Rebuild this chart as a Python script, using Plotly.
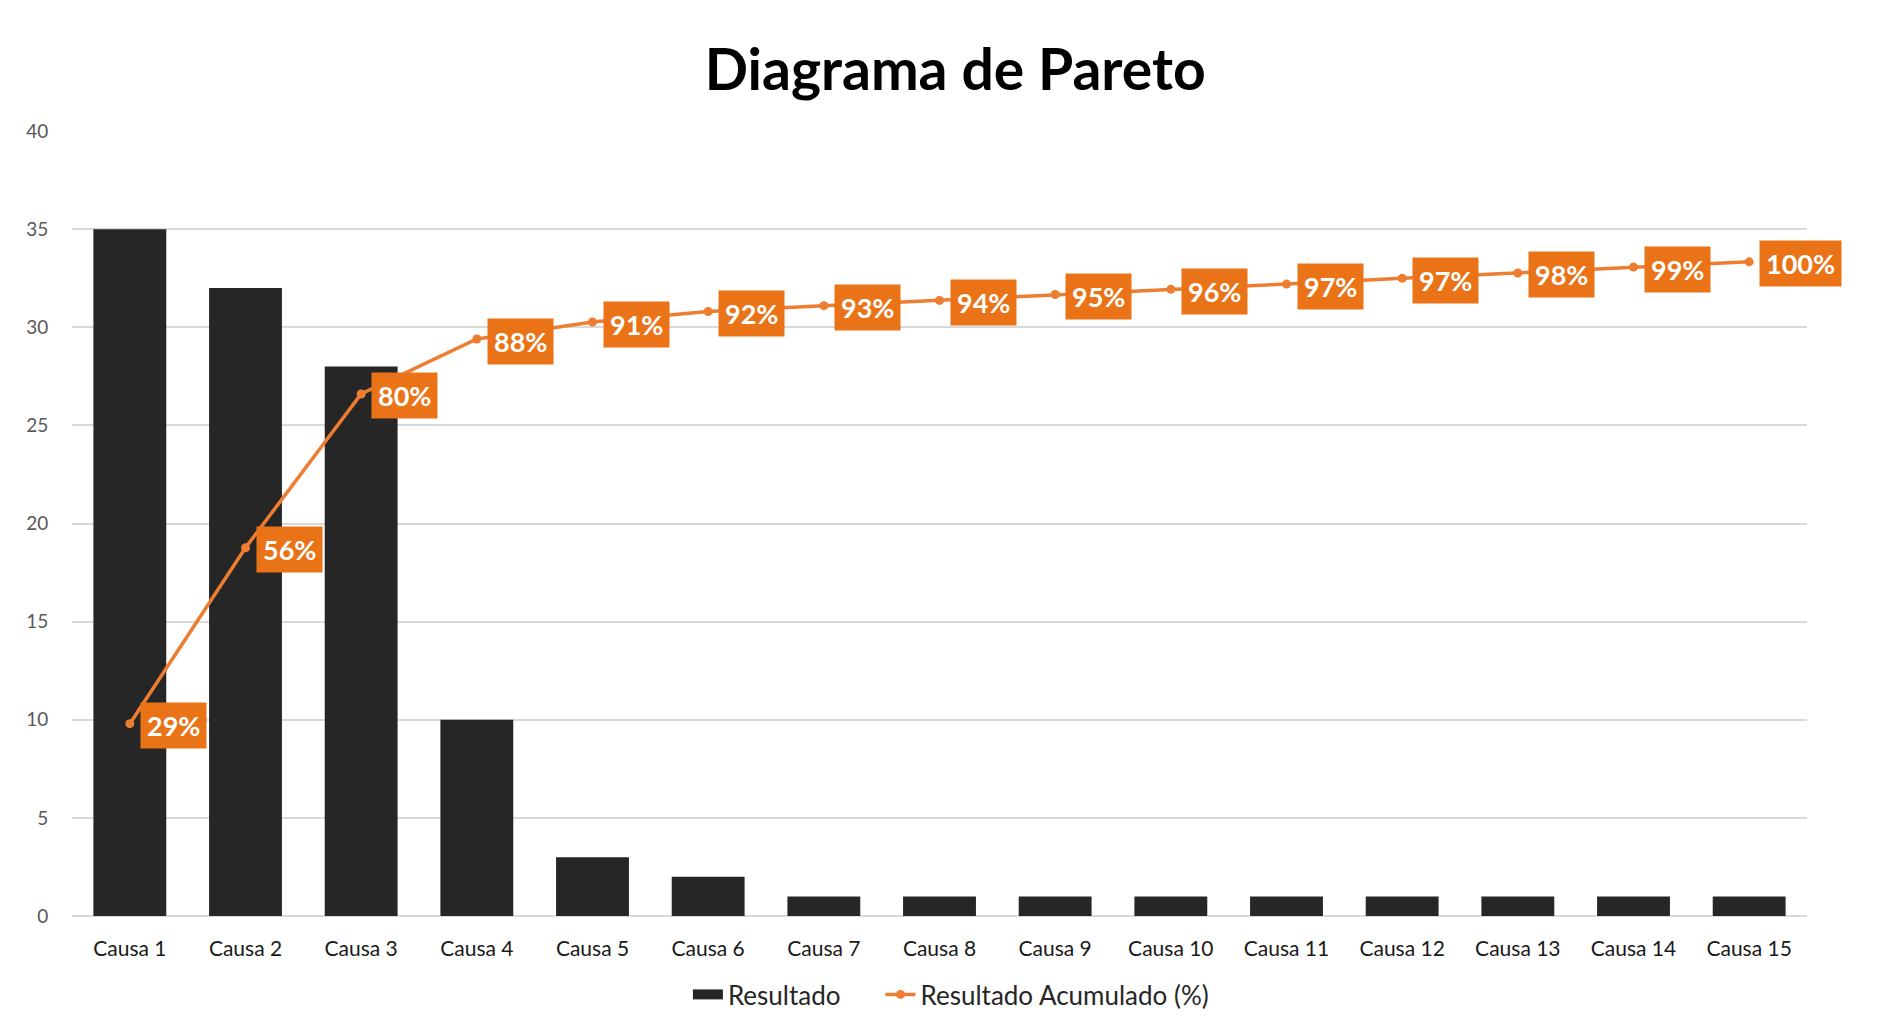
import plotly.graph_objects as go

# data
causas = ["Causa 1", "Causa 2", "Causa 3", "Causa 4", "Causa 5", "Causa 6", "Causa 7", "Causa 8",
          "Causa 9", "Causa 10", "Causa 11", "Causa 12", "Causa 13", "Causa 14", "Causa 15"]
resultado = [35, 32, 28, 10, 3, 2, 1, 1, 1, 1, 1, 1, 1, 1, 1]
acumulado_pct = [29.4, 56.3, 79.8, 88.2, 90.8, 92.4, 93.3, 94.1, 95.0, 95.8, 96.6, 97.48, 98.3, 99.2, 100.0]
y_ticks = [0, 5, 10, 15, 20, 25, 30, 35, 40]

BAR_COLOR = "#262626"
LINE_COLOR = "#ED7D31"
LABEL_BG = "#EA7317"
FONT = "Lato"

fig = go.Figure()

# bars (legend entry drawn by a dummy wide swatch below)
fig.add_trace(go.Bar(
    x=causas, y=resultado, name="Resultado", showlegend=False,
    marker=dict(color=BAR_COLOR, line=dict(width=0)),
))
fig.add_trace(go.Scatter(
    x=[None], y=[None], name="Resultado", mode="lines",
    line=dict(color=BAR_COLOR, width=16), legend="legend",
))

# cumulative line on hidden secondary axis
fig.add_trace(go.Scatter(
    x=causas, y=acumulado_pct, name="Resultado Acumulado (%)",
    yaxis="y2", mode="lines+markers",
    line=dict(color=LINE_COLOR, width=3.5),
    marker=dict(color=LINE_COLOR, size=9),
    legend="legend2",
))

# orange boxed data labels
annotations = []
for c, v in zip(causas, acumulado_pct):
    annotations.append(dict(
        x=c, y=v, xref="x", yref="y2",
        text="<b>%d%%</b>" % round(v),
        showarrow=False, xanchor="left", yanchor="middle",
        xshift=10, yshift=-2,
        font=dict(family=FONT, size=27, color="white"),
        bgcolor=LABEL_BG, borderpad=6,
    ))

legend_font = dict(family=FONT, size=26, color="#262626")

fig.update_layout(
    width=1899, height=1020,
    margin=dict(l=72, r=92, t=131, b=104, autoexpand=False),
    plot_bgcolor="white", paper_bgcolor="white",
    title=dict(text="<b>Diagrama de Pareto</b>", x=0.503, xanchor="center",
               y=0.931, yanchor="middle",
               font=dict(family=FONT, size=57, color="black")),
    bargap=0.37,
    showlegend=True,
    legend=dict(orientation="h", x=0.355, xanchor="left", y=-0.1, yanchor="middle",
                font=legend_font),
    legend2=dict(orientation="h", x=0.466, xanchor="left", y=-0.1, yanchor="middle",
                 font=legend_font),
    xaxis=dict(range=[-0.5, 14.5], showgrid=False, showline=False, automargin=False,
               ticks="outside", ticklen=14, tickcolor="rgba(0,0,0,0)",
               tickfont=dict(family=FONT, size=21, color="#1a1a1a")),
    yaxis=dict(range=[0, 40], tickvals=y_ticks, showgrid=True, gridcolor="#D9D9D9", gridwidth=1.5,
               zeroline=True, zerolinecolor="#D9D9D9", zerolinewidth=1.5, automargin=False,
               ticks="outside", ticklen=19, tickcolor="rgba(0,0,0,0)",
               tickfont=dict(family=FONT, size=19, color="#595959")),
    yaxis2=dict(range=[0, 120], overlaying="y", side="right", visible=False),
    annotations=annotations,
)

fig.write_html("out.html", config={"displayModeBar": False},
               post_script="document.body.style.margin='0';")
